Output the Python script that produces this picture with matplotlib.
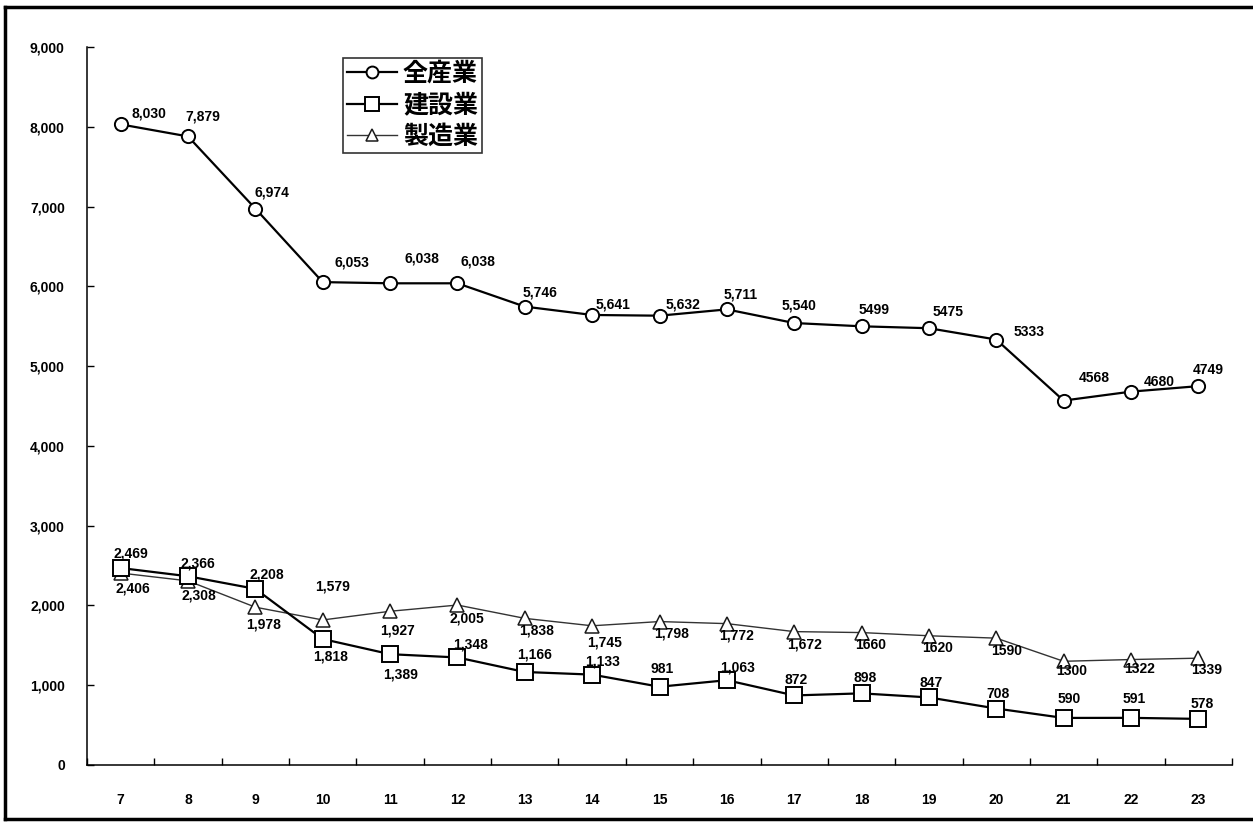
import numpy as np
import matplotlib
matplotlib.use('Agg')
import matplotlib.pyplot as plt
from matplotlib.lines import Line2D

# DATA
years = [7, 8, 9, 10, 11, 12, 13, 14, 15, 16, 17, 18, 19, 20, 21, 22, 23]
all_ind = [8030, 7879, 6974, 6053, 6038, 6038, 5746, 5641, 5632, 5711, 5540, 5499, 5475, 5333, 4568, 4680, 4749]
constr = [2469, 2366, 2208, 1579, 1389, 1348, 1166, 1133, 981, 1063, 872, 898, 847, 708, 590, 591, 578]
manuf = [2406, 2308, 1978, 1818, 1927, 2005, 1838, 1745, 1798, 1772, 1672, 1660, 1620, 1590, 1300, 1322, 1339]
series_names = ['全産業', '建設業', '製造業']

# label texts as printed in the original (year 10 labels are swapped there)
all_lbl = ['8,030', '7,879', '6,974', '6,053', '6,038', '6,038', '5,746', '5,641', '5,632', '5,711',
           '5,540', '5499', '5475', '5333', '4568', '4680', '4749']
constr_lbl = ['2,469', '2,366', '2,208', '1,818', '1,389', '1,348', '1,166', '1,133', '981', '1,063',
              '872', '898', '847', '708', '590', '591', '578']
manuf_lbl = ['2,406', '2,308', '1,978', '1,579', '1,927', '2,005', '1,838', '1,745', '1,798', '1,772',
             '1,672', '1660', '1620', '1590', '1300', '1322', '1339']

# label offsets in pixels (dx, dy up)
all_off = [(28, 11), (15, 20), (17, 16), (29, 20), (32, 25), (20, 22), (15, 14), (21, 10), (23, 11),
           (14, 15), (5, 18), (13, 16), (19, 16), (33, 8), (31, 23), (28, 10), (10, 16)]
constr_off = [(10, 15), (10, 13), (11, 14), (8, -17), (10, -20), (13, 13), (10, 17), (10, 13), (3, 18),
              (11, 13), (2, 15), (4, 15), (2, 14), (2, 15), (6, 19), (3, 19), (4, 15)]
manuf_off = [(12, -15), (11, -15), (8, -17), (10, 33), (7, -19), (9, -13), (12, -12), (12, -17), (12, -12),
             (10, -12), (10, -13), (9, -12), (9, -12), (10, -13), (8, -10), (9, -9), (8, -12)]

fig = plt.figure(figsize=(12.53, 8.23), dpi=100)
ax = fig.add_axes([87 / 1253, 1 - 765 / 823, (1232 - 87) / 1253, (765 - 47) / 823])

l1, = ax.plot(years, all_ind, color='black', lw=1.6, marker='o', ms=9.5, mfc='white', mec='black', mew=1.4, zorder=4)
l2, = ax.plot(years, constr, color='black', lw=1.6, marker='s', ms=11, mfc='white', mec='black', mew=1.4, zorder=4)
l3, = ax.plot(years, manuf, color='#333333', lw=1.0, marker='^', ms=10, mfc='white', mec='#1a1a1a', mew=1.1, zorder=3)

lbl_font = dict(fontsize=10, fontweight='bold', family='Liberation Sans', ha='center', va='center')
for vals, lbls, offs in [(all_ind, all_lbl, all_off), (constr, constr_lbl, constr_off), (manuf, manuf_lbl, manuf_off)]:
    for x, v, t, o in zip(years, vals, lbls, offs):
        ax.annotate(t, (x, v), xytext=o, textcoords='offset pixels', zorder=5, **lbl_font)

ax.set_xlim(6.5, 23.5)
ax.set_ylim(0, 9000)
ax.set_yticks(np.arange(0, 9001, 1000))
ax.set_yticklabels([f'{v:,}' for v in range(0, 9001, 1000)], fontsize=10, fontweight='bold', family='Liberation Sans')
ax.set_xticks(np.arange(6.5, 24, 1))
ax.set_xticklabels([])
ax.set_xticks(years, minor=True)
ax.set_xticklabels([str(y) for y in years], minor=True, fontsize=10, fontweight='bold', family='Liberation Sans')
ax.tick_params(axis='x', which='major', direction='in', length=5, width=1)
ax.tick_params(axis='x', which='minor', length=0, pad=20)
ax.tick_params(axis='y', direction='in', length=5, width=1, pad=16)
for s in ['top', 'right']:
    ax.spines[s].set_visible(False)
for s in ['left', 'bottom']:
    ax.spines[s].set_linewidth(1.1)

leg = fig.legend([l1, l2, l3], series_names, loc='upper left', bbox_to_anchor=(343 / 1253, 1 - 58 / 823),
                 prop={'family': ['Noto Sans CJK JP', 'DejaVu Sans'], 'size': 18, 'weight': 'bold'},
                 frameon=True, fancybox=False, shadow=False, borderpad=0.15, labelspacing=0.3,
                 handlelength=2.0, handletextpad=0.25, borderaxespad=0, markerscale=0.9)
leg.get_frame().set_edgecolor('black')
leg.get_frame().set_linewidth(1.2)

# thick scan frame around the chart (right side cut off)
frame = [Line2D([5 / 1253, 5 / 1253], [4 / 823, 1 - 7 / 823]),
         Line2D([5 / 1253, 1.0], [1 - 7 / 823, 1 - 7 / 823]),
         Line2D([5 / 1253, 1.0], [4 / 823, 4 / 823])]
for ln in frame:
    ln.set_transform(fig.transFigure)
    ln.set_color('black')
    ln.set_linewidth(2.5)
    fig.add_artist(ln)

fig.savefig('out.png', dpi=100)
